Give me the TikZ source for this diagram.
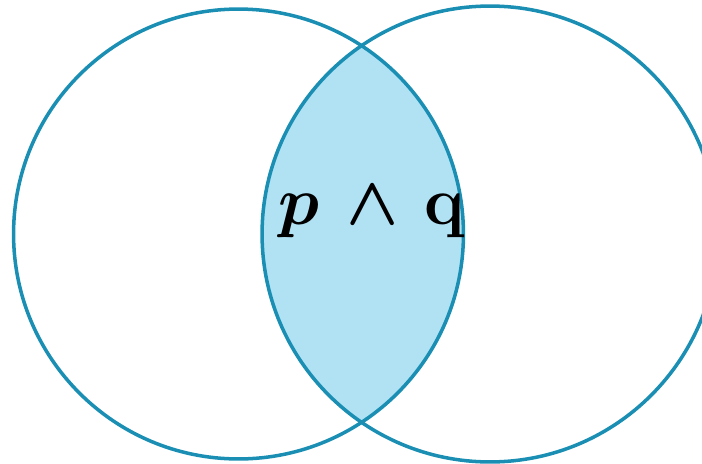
\documentclass[tikz,border=0pt]{standalone}
\usepackage{amsmath,amsbsy}
\usetikzlibrary{positioning}
\definecolor{ring}{HTML}{1A8FB3}
\definecolor{paleblue}{HTML}{B0E2F4}
\newcommand{\rA}{4.50}
\newcommand{\rB}{4.56}

\begin{document}
\begin{tikzpicture}[
  x=0.02cm, y=-0.02cm,
  ringline/.style={draw=ring, line width=2pt},
  lab/.style={font=\Huge, scale=1.56, text=black},
]

% ---- Frame: 702 x 463 px ----------------------------------------------------
\useasboundingbox (0,0) rectangle (702,463);

% ---- Centres of the two sets ------------------------------------------------
\coordinate (P) at (238.5,234);
\coordinate (Q) at (490,234);

% ---- Overlap: p and q -------------------------------------------------------
\begin{scope}
  \clip (P) circle[radius=\rA cm];
  \fill[paleblue] (Q) circle[radius=\rB cm];
\end{scope}

% ---- Circles ---------------------------------------------------------------
\draw[ringline] (P) circle[radius=\rA cm];
\draw[ringline] (Q) circle[radius=\rB cm];

% ---- Label -----------------------------------------------------------------
\node[lab] (pq) at (372,212) {$\boldsymbol{p}\,\boldsymbol{\wedge}\,\mathbf{q}$};

\end{tikzpicture}
\end{document}
